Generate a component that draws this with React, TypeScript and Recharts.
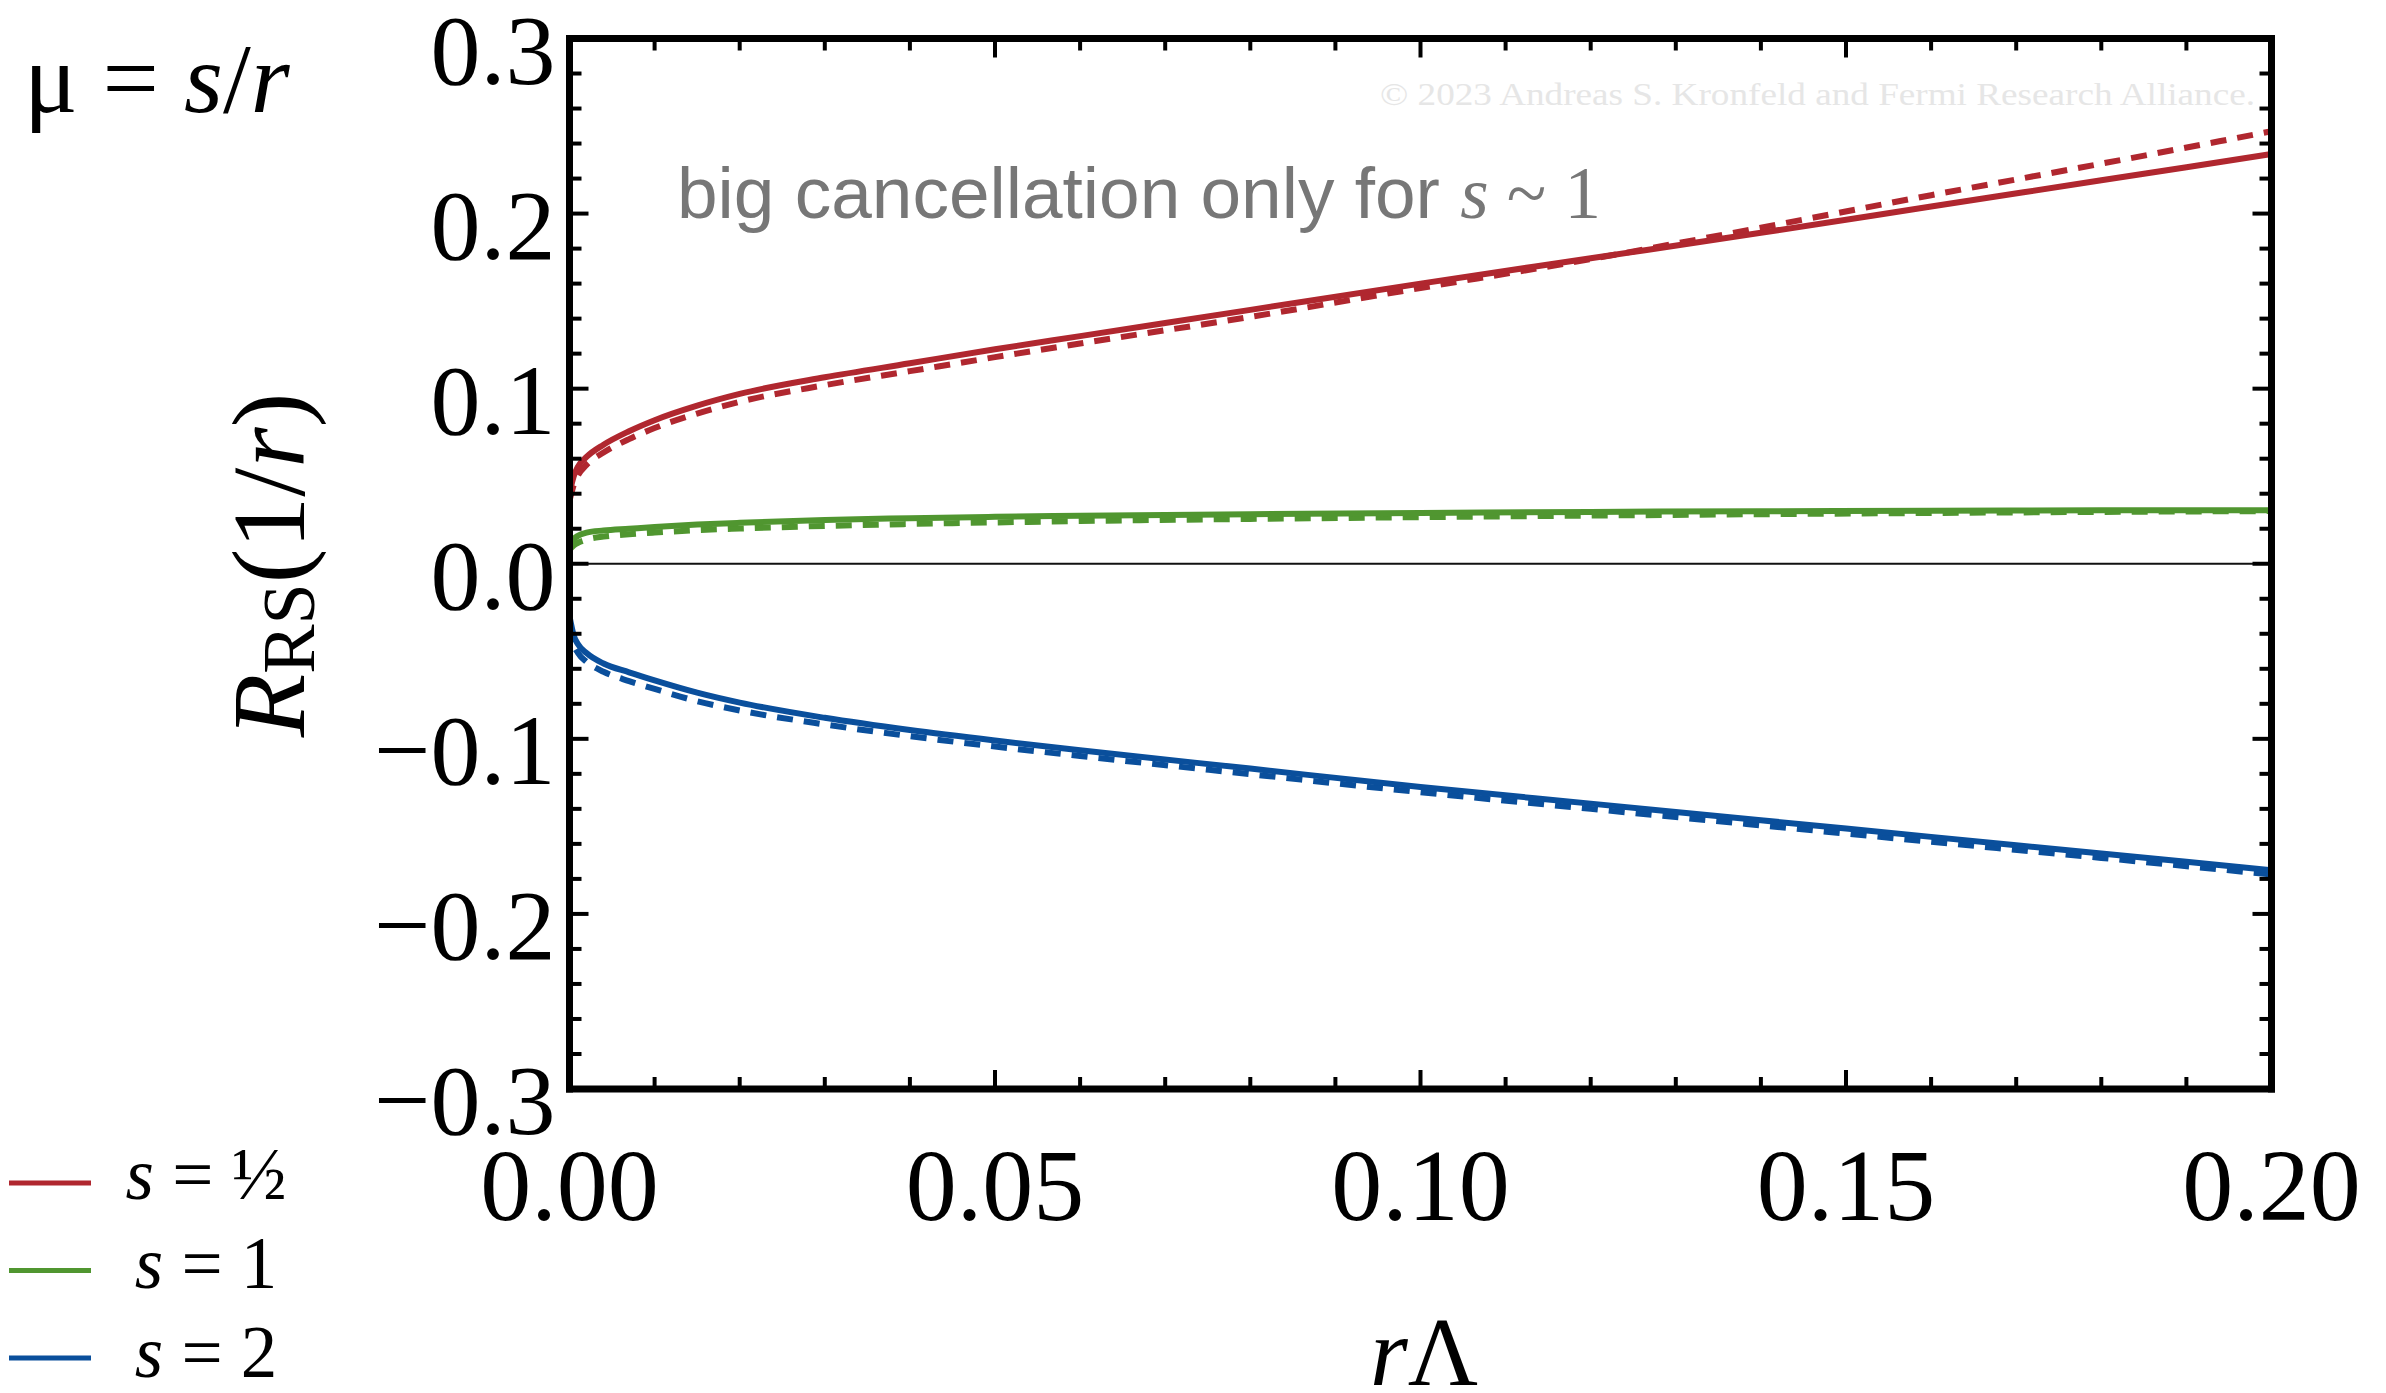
import { LineChart, Line, XAxis, YAxis, ReferenceLine, Legend } from 'recharts';

// r*Lambda sample points
const R_LAMBDA = [0, 0.0005, 0.001, 0.002, 0.004, 0.007, 0.01, 0.015, 0.02, 0.03, 0.04, 0.05, 0.06, 0.08, 0.1, 0.12, 0.14, 0.16, 0.18, 0.2];

// s = 1/2
const RED_SOLID = [0.040, 0.050, 0.0555, 0.061, 0.068, 0.0757, 0.082, 0.0903, 0.097, 0.1065, 0.1145, 0.1225, 0.130, 0.145, 0.160, 0.1745, 0.189, 0.204, 0.219, 0.234];
const RED_DASHED = [0.036, 0.045, 0.0505, 0.0565, 0.0635, 0.0712, 0.0775, 0.0858, 0.0925, 0.102, 0.110, 0.118, 0.1258, 0.141, 0.1575, 0.174, 0.192, 0.2105, 0.2285, 0.247];

// s = 1
const GREEN_SOLID = [0.010, 0.014, 0.016, 0.0178, 0.019, 0.020, 0.021, 0.0224, 0.0234, 0.025, 0.026, 0.0268, 0.0274, 0.0283, 0.029, 0.0296, 0.030, 0.0303, 0.0305, 0.0306];
const GREEN_DASHED = [0.008, 0.0105, 0.012, 0.0138, 0.0155, 0.0168, 0.0178, 0.0192, 0.0201, 0.0216, 0.0227, 0.0236, 0.0244, 0.0256, 0.0266, 0.0275, 0.0283, 0.029, 0.0296, 0.0301];

// s = 2
const BLUE_SOLID = [-0.030, -0.041, -0.046, -0.051, -0.057, -0.062, -0.0666, -0.0736, -0.0793, -0.088, -0.095, -0.101, -0.1065, -0.117, -0.1275, -0.137, -0.1465, -0.156, -0.1655, -0.175];
const BLUE_DASHED = [-0.034, -0.046, -0.051, -0.056, -0.0617, -0.067, -0.0715, -0.0785, -0.0838, -0.0918, -0.0985, -0.1044, -0.1098, -0.1202, -0.1305, -0.140, -0.1494, -0.1588, -0.168, -0.1775];

const X_TICKS = [0, 0.01, 0.02, 0.03, 0.04, 0.05, 0.06, 0.07, 0.08, 0.09, 0.1, 0.11, 0.12, 0.13, 0.14, 0.15, 0.16, 0.17, 0.18, 0.19, 0.2];
const Y_TICKS = [-0.3, -0.28, -0.26, -0.24, -0.22, -0.2, -0.18, -0.16, -0.14, -0.12, -0.1, -0.08, -0.06, -0.04, -0.02, 0,
  0.02, 0.04, 0.06, 0.08, 0.1, 0.12, 0.14, 0.16, 0.18, 0.2, 0.22, 0.24, 0.26, 0.28, 0.3];
const X_LABELS = ['0.00', '0.05', '0.10', '0.15', '0.20'];
const Y_LABELS = ['\u22120.3', '\u22120.2', '\u22120.1', '0.0', '0.1', '0.2', '0.3'];

const LEGEND_ITEMS = [
  { key: 'redSolid', label: '\u00bd' },
  { key: 'greenSolid', label: '1' },
  { key: 'blueSolid', label: '2' },
];

const RED = '#b0272f';
const GREEN = '#509630';
const BLUE = '#0a4f9c';

const SERIF = '"Liberation Serif", "Times New Roman", serif';
const SANS = '"Liberation Sans", Arial, sans-serif';

const W = 2386;
const H = 1393;
const LINE_W = 6;
const DASH = '16 11';

const majorIndex = (v: number, step: number) => {
  const k = v / step;
  return Math.abs(k - Math.round(k)) < 1e-6 ? Math.round(k) : null;
};

// no tick marks on the frame corners
const isEnd = (v: number, lo: number, hi: number) => Math.abs(v - lo) < 1e-9 || Math.abs(v - hi) < 1e-9;

function LeftTick({ x, y, payload }: any) {
  const k = majorIndex(payload.value, 0.1);
  return (
    <g>
      {!isEnd(payload.value, -0.3, 0.3) && (
        <line x1={x} x2={x + (k !== null ? 19 : 12)} y1={y} y2={y} stroke="#000" strokeWidth={4} />
      )}
      {k !== null && (
        <text x={x - 14} y={y + 45} textAnchor="end" fontFamily={SERIF} fontSize={100} fill="#000">
          {Y_LABELS[k + 3]}
        </text>
      )}
    </g>
  );
}

function RightTick({ x, y, payload }: any) {
  if (isEnd(payload.value, -0.3, 0.3)) return <g />;
  const k = majorIndex(payload.value, 0.1);
  return <line x1={x - (k !== null ? 19 : 12)} x2={x} y1={y} y2={y} stroke="#000" strokeWidth={4} />;
}

function BottomTick({ x, y, payload }: any) {
  const k = majorIndex(payload.value, 0.05);
  return (
    <g>
      {!isEnd(payload.value, 0, 0.2) && (
        <line x1={x} x2={x} y1={y - (k !== null ? 19 : 12)} y2={y} stroke="#000" strokeWidth={4} />
      )}
      {k !== null && (
        <text x={x} y={y + 131} textAnchor="middle" fontFamily={SERIF} fontSize={102} fill="#000">
          {X_LABELS[k]}
        </text>
      )}
    </g>
  );
}

function TopTick({ x, y, payload }: any) {
  if (isEnd(payload.value, 0, 0.2)) return <g />;
  const k = majorIndex(payload.value, 0.05);
  return <line x1={x} x2={x} y1={y} y2={y + (k !== null ? 19 : 12)} stroke="#000" strokeWidth={4} />;
}

function LegendContent({ payload }: any) {
  const byKey: Record<string, string> = {};
  for (const p of payload || []) byKey[p.dataKey] = p.color;
  return (
    <svg width={420} height={263} style={{ display: 'block' }}>
      {LEGEND_ITEMS.map((item, i) => (
        <g key={item.key}>
          <line x1={9} x2={91} y1={53 + i * 87.5} y2={53 + i * 87.5} stroke={byKey[item.key]} strokeWidth={5} />
          <text x={206} y={69 + i * 89} textAnchor="middle" fontFamily={SERIF} fontSize={73} fill="#000">
            <tspan fontStyle="italic">s</tspan>
            {' = ' + item.label}
          </text>
        </g>
      ))}
    </svg>
  );
}

const frameLine = { stroke: '#000', strokeWidth: 7, strokeLinecap: 'square' as const };

export default function App() {
  const data = R_LAMBDA.map((x, i) => ({
    x,
    redSolid: RED_SOLID[i],
    redDashed: RED_DASHED[i],
    greenSolid: GREEN_SOLID[i],
    greenDashed: GREEN_DASHED[i],
    blueSolid: BLUE_SOLID[i],
    blueDashed: BLUE_DASHED[i],
  }));

  // dashed curves sit on the top/right axes (same domains) so those frame axes get a scale
  const dashedAxes = { xAxisId: 'top', yAxisId: 'right' };

  return (
    <div style={{ position: 'absolute', left: 0, top: 0, width: W, height: H, background: '#fff', overflow: 'hidden' }}>
      <LineChart width={W} height={H} data={data} margin={{ top: 28.5, right: 104.5, bottom: 204, left: 469.5 }}>
        <XAxis
          dataKey="x" type="number" domain={[0, 0.2]} ticks={X_TICKS} interval={0}
          height={100} tickSize={0} tickMargin={0} tickLine={false}
          axisLine={frameLine} tick={(p: any) => <BottomTick {...p} />}
        />
        <XAxis
          xAxisId="top" orientation="top" dataKey="x" type="number" domain={[0, 0.2]} ticks={X_TICKS} interval={0}
          height={10} tickSize={0} tickMargin={0} tickLine={false}
          axisLine={frameLine} tick={(p: any) => <TopTick {...p} />}
        />
        <YAxis
          type="number" domain={[-0.3, 0.3]} ticks={Y_TICKS} interval={0}
          width={100} tickSize={0} tickMargin={0} tickLine={false}
          axisLine={frameLine} tick={(p: any) => <LeftTick {...p} />}
        />
        <YAxis
          yAxisId="right" orientation="right" type="number" domain={[-0.3, 0.3]} ticks={Y_TICKS} interval={0}
          width={10} tickSize={0} tickMargin={0} tickLine={false}
          axisLine={frameLine} tick={(p: any) => <RightTick {...p} />}
        />
        <ReferenceLine y={0} stroke="#111" strokeWidth={2} />
        <Line {...dashedAxes} dataKey="redDashed" type="monotone" stroke={RED} strokeWidth={LINE_W} strokeDasharray={DASH} dot={false} legendType="none" isAnimationActive={false} />
        <Line {...dashedAxes} dataKey="greenDashed" type="monotone" stroke={GREEN} strokeWidth={LINE_W} strokeDasharray={DASH} dot={false} legendType="none" isAnimationActive={false} />
        <Line {...dashedAxes} dataKey="blueDashed" type="monotone" stroke={BLUE} strokeWidth={LINE_W} strokeDasharray={DASH} dot={false} legendType="none" isAnimationActive={false} />
        <Line dataKey="redSolid" name="s = 1/2" type="monotone" stroke={RED} strokeWidth={LINE_W} dot={false} isAnimationActive={false} />
        <Line dataKey="greenSolid" name="s = 1" type="monotone" stroke={GREEN} strokeWidth={LINE_W} dot={false} isAnimationActive={false} />
        <Line dataKey="blueSolid" name="s = 2" type="monotone" stroke={BLUE} strokeWidth={LINE_W} dot={false} isAnimationActive={false} />
        <Legend
          layout="horizontal" align="center" verticalAlign="middle"
          wrapperStyle={{ position: 'absolute', left: 0, top: 1130, width: 420, height: 263 }}
          content={(p: any) => <LegendContent {...p} />}
        />
      </LineChart>

      <svg width={W} height={H} style={{ position: 'absolute', left: 0, top: 0, pointerEvents: 'none' }}>
        <text x={24} y={112} fontFamily={SERIF} fontSize={100} fill="#000">
          {'\u03bc = '}<tspan fontStyle="italic">s</tspan>/<tspan fontStyle="italic">r</tspan>
        </text>
        <text x={2255} y={105} textAnchor="end" fontFamily={SERIF} fontSize={32} fill="#e6e6e6"
          textLength={875} lengthAdjust="spacingAndGlyphs">
          © 2023 Andreas S. Kronfeld and Fermi Research Alliance.
        </text>
        <text x={677} y={218} fontFamily={SANS} fontSize={73} fill="#777">
          {'big cancellation only for '}
          <tspan fontFamily={SERIF} fontStyle="italic">s</tspan>
          <tspan fontFamily={SERIF}>{' ~ 1'}</tspan>
        </text>
        <text transform="translate(304 565) rotate(-90)" textAnchor="middle" fontFamily={SERIF} fontSize={104} fill="#000">
          <tspan fontStyle="italic">R</tspan>
          <tspan fontSize={74} dy={10}>RS</tspan>
          <tspan dy={-10}>(1/</tspan>
          <tspan fontStyle="italic">r</tspan>
          <tspan>)</tspan>
        </text>
        <text x={1424} y={1385} textAnchor="middle" fontFamily={SERIF} fontSize={97} fill="#000">
          <tspan fontStyle="italic">r</tspan>Λ
        </text>
      </svg>
    </div>
  );
}
